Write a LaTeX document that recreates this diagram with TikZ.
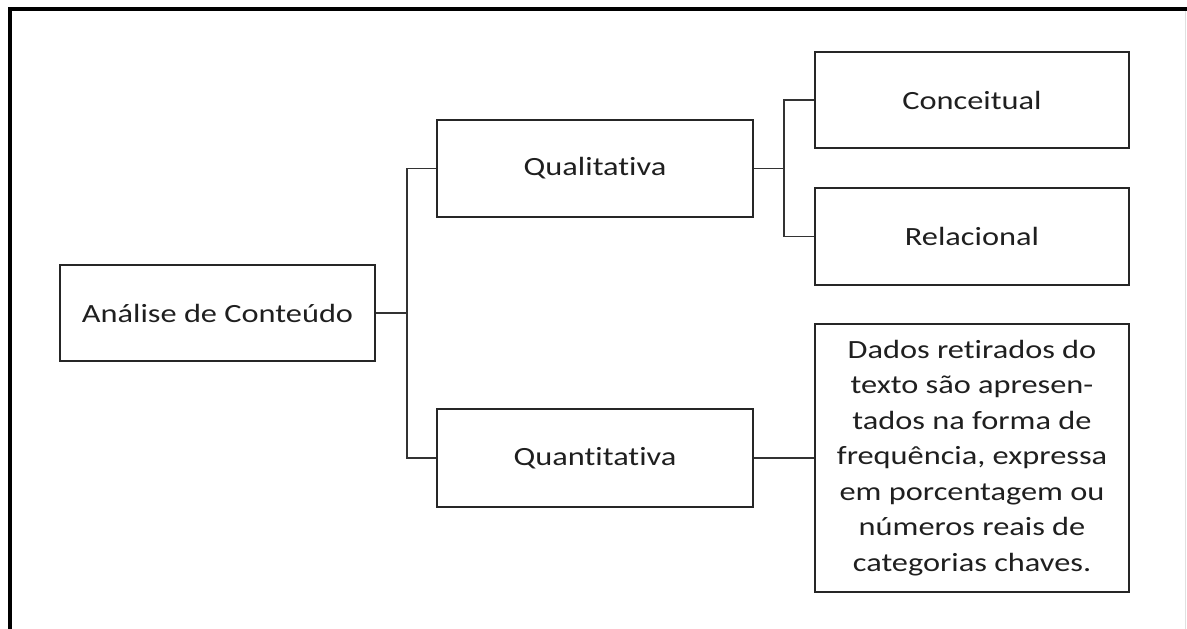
\documentclass[tikz,border=0pt]{standalone}
\usepackage{fontspec}
\setmainfont[FakeStretch=1.23,Ligatures={NoCommon,NoRequired,NoContextual}]{Carlito}
\begin{document}
\begin{tikzpicture}[x=1pt,y=-1pt,
  box/.style={draw=black!85,line width=1.8pt,inner sep=0pt,align=center,
    font=\fontsize{26.3}{35.5}\selectfont,text=black!88},
  link/.style={draw=black!80,line width=1.8pt}]
\useasboundingbox (0,0) rectangle (1187,629);
% outer frame
\draw[line width=4pt,black,line cap=rect] (10,629) -- (10,9) -- (1187,9);
\draw[line width=0.8pt,black!12] (1185,11) -- (1185,629);
% nodes
\node[box,minimum width=315pt,minimum height=96pt] (ana) at (217.5,313) {Análise de Conteúdo};
\node[box,minimum width=316pt,minimum height=97pt] (qual) at (595,168.5) {Qualitativa};
\node[box,minimum width=316pt,minimum height=98pt] (quant) at (595,458) {Quantitativa};
\node[box,minimum width=314pt,minimum height=96pt] (conc) at (972,100) {Conceitual};
\node[box,minimum width=314pt,minimum height=97pt] (rel) at (972,236.5) {Relacional};
\node[box,minimum width=314pt,minimum height=268pt] (dados) at (972,458)
  {Dados retirados do\\texto são apresen-\\tados na forma de\\frequência, expressa\\em porcentagem ou\\números reais de\\categorias chaves.};
% connectors
\coordinate (b1) at (407,313);
\coordinate (b2) at (784,168.5);
\draw[link] (ana.east) -- (b1);
\draw[link] (b1) |- (qual.west);
\draw[link] (b1) |- (quant.west);
\draw[link] (qual.east) -- (b2);
\draw[link] (b2) |- (conc.west);
\draw[link] (b2) |- (rel.west);
\draw[link] (quant.east) -- (dados.west);
\end{tikzpicture}
\end{document}
